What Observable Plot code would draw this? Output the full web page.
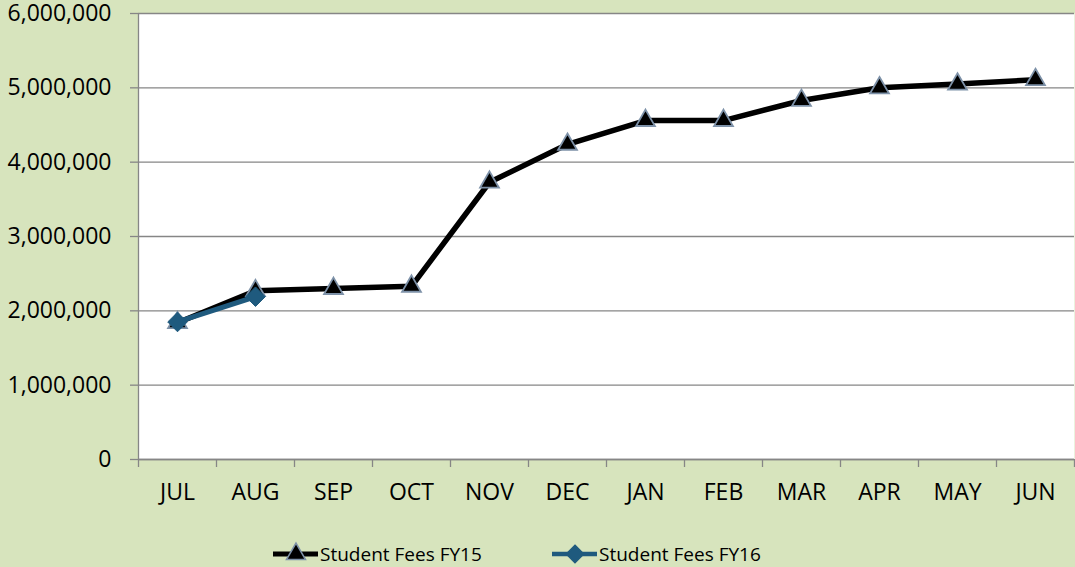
<!DOCTYPE html>
<html>
<head>
<meta charset="utf-8">
<script src="https://cdn.jsdelivr.net/npm/d3@7"></script>
<script src="https://cdn.jsdelivr.net/npm/@observablehq/plot@0.6"></script>
<style>
  html, body { margin: 0; padding: 0; background: #D7E4BD; }
  #wrap { width: 1075px; height: 567px; position: relative; background: #D7E4BD; overflow: hidden; font-family: "Open Sans", sans-serif; }
  #legend { position: absolute; left: 0; top: 530px; width: 1075px; height: 37px; }
</style>
</head>
<body>
<div id="wrap"><div id="chart"></div><svg id="legend" width="1075" height="37"></svg></div>
<script>
const months = ["JUL","AUG","SEP","OCT","NOV","DEC","JAN","FEB","MAR","APR","MAY","JUN"];
const fy15 = [1840000, 2270000, 2300000, 2330000, 3730000, 4240000, 4560000, 4560000, 4830000, 5000000, 5050000, 5110000];
const fy16 = [1850000, 2190000];
const yTicks = [0, 1000000, 2000000, 3000000, 4000000, 5000000, 6000000];
const seriesNames = ["Student Fees FY15", "Student Fees FY16"];

const C15 = "#000000", C15stroke = "#7D91A8", C16 = "#1F5A7E", GRID = "#868686";

const d15 = fy15.map((v, i) => ({x: i + 0.5, y: v}));
const d16 = fy16.map((v, i) => ({x: i + 0.5, y: v}));

const chart = Plot.plot({
  width: 1075, height: 530,
  marginLeft: 138, marginRight: 1, marginTop: 13, marginBottom: 71,
  style: {background: "transparent", fontFamily: "'Open Sans', sans-serif", fontSize: "23px", color: "#000"},
  x: {type: "linear", domain: [0, 12]},
  y: {domain: [0, 6000000]},
  marks: [
    Plot.frame({fill: "white", stroke: null}),
    Plot.gridY(yTicks, {stroke: GRID, strokeOpacity: 1, strokeWidth: 1.3}),
    Plot.ruleX([0], {stroke: GRID, strokeWidth: 1.3}),
    Plot.ruleY([0], {stroke: GRID, strokeWidth: 1.3}),
    Plot.axisY({ticks: yTicks, tickSize: 8, tickPadding: 19, tickFormat: d3.format(","), stroke: GRID, strokeWidth: 1.3, fill: "#000", label: null}),
    Plot.axisX({ticks: d3.range(13), tickSize: 8, tickFormat: () => "", stroke: GRID, strokeWidth: 1.3, label: null}),
    Plot.axisX({ticks: d3.range(12).map(i => i + 0.5), tickSize: 0, tickPadding: 24, tickFormat: d => months[Math.floor(d)], fill: "#000", label: null}),
    Plot.line(d15, {x: "x", y: "y", stroke: C15, strokeWidth: 5.5}),
    Plot.dot(d15, {x: "x", y: "y", symbol: "triangle", r: 7, fill: C15, stroke: C15stroke, strokeWidth: 1.8}),
    Plot.line(d16, {x: "x", y: "y", stroke: C16, strokeWidth: 5}),
    Plot.dot(d16, {x: "x", y: "y", symbol: "diamond2", r: 8.8, fill: C16, stroke: C16, strokeWidth: 1})
  ]
});
document.getElementById("chart").appendChild(chart);

// legend
const lg = d3.select("#legend");
const items = [
  {x: 273, color: C15, sym: d3.symbolTriangle, size: Math.PI * 49, fill: C15, stroke: C15stroke, w: 5, name: seriesNames[0]},
  {x: 552, color: C16, sym: d3.symbolDiamond2, size: Math.PI * 60, fill: C16, stroke: C16, w: 4.5, name: seriesNames[1]}
];
items.forEach(it => {
  const g = lg.append("g");
  g.append("line").attr("x1", it.x).attr("x2", it.x + 45).attr("y1", 24).attr("y2", 24).attr("stroke", it.color).attr("stroke-width", it.w);
  g.append("path").attr("d", d3.symbol(it.sym, it.size)()).attr("transform", `translate(${it.x + 23},24)`)
    .attr("fill", it.fill).attr("stroke", it.stroke).attr("stroke-width", 1.6);
  g.append("text").attr("x", it.x + 47).attr("y", 24).attr("dy", "0.35em")
    .attr("font-family", "'Open Sans', sans-serif").attr("font-size", "19px").attr("fill", "#000").text(it.name);
});
</script>
</body>
</html>
